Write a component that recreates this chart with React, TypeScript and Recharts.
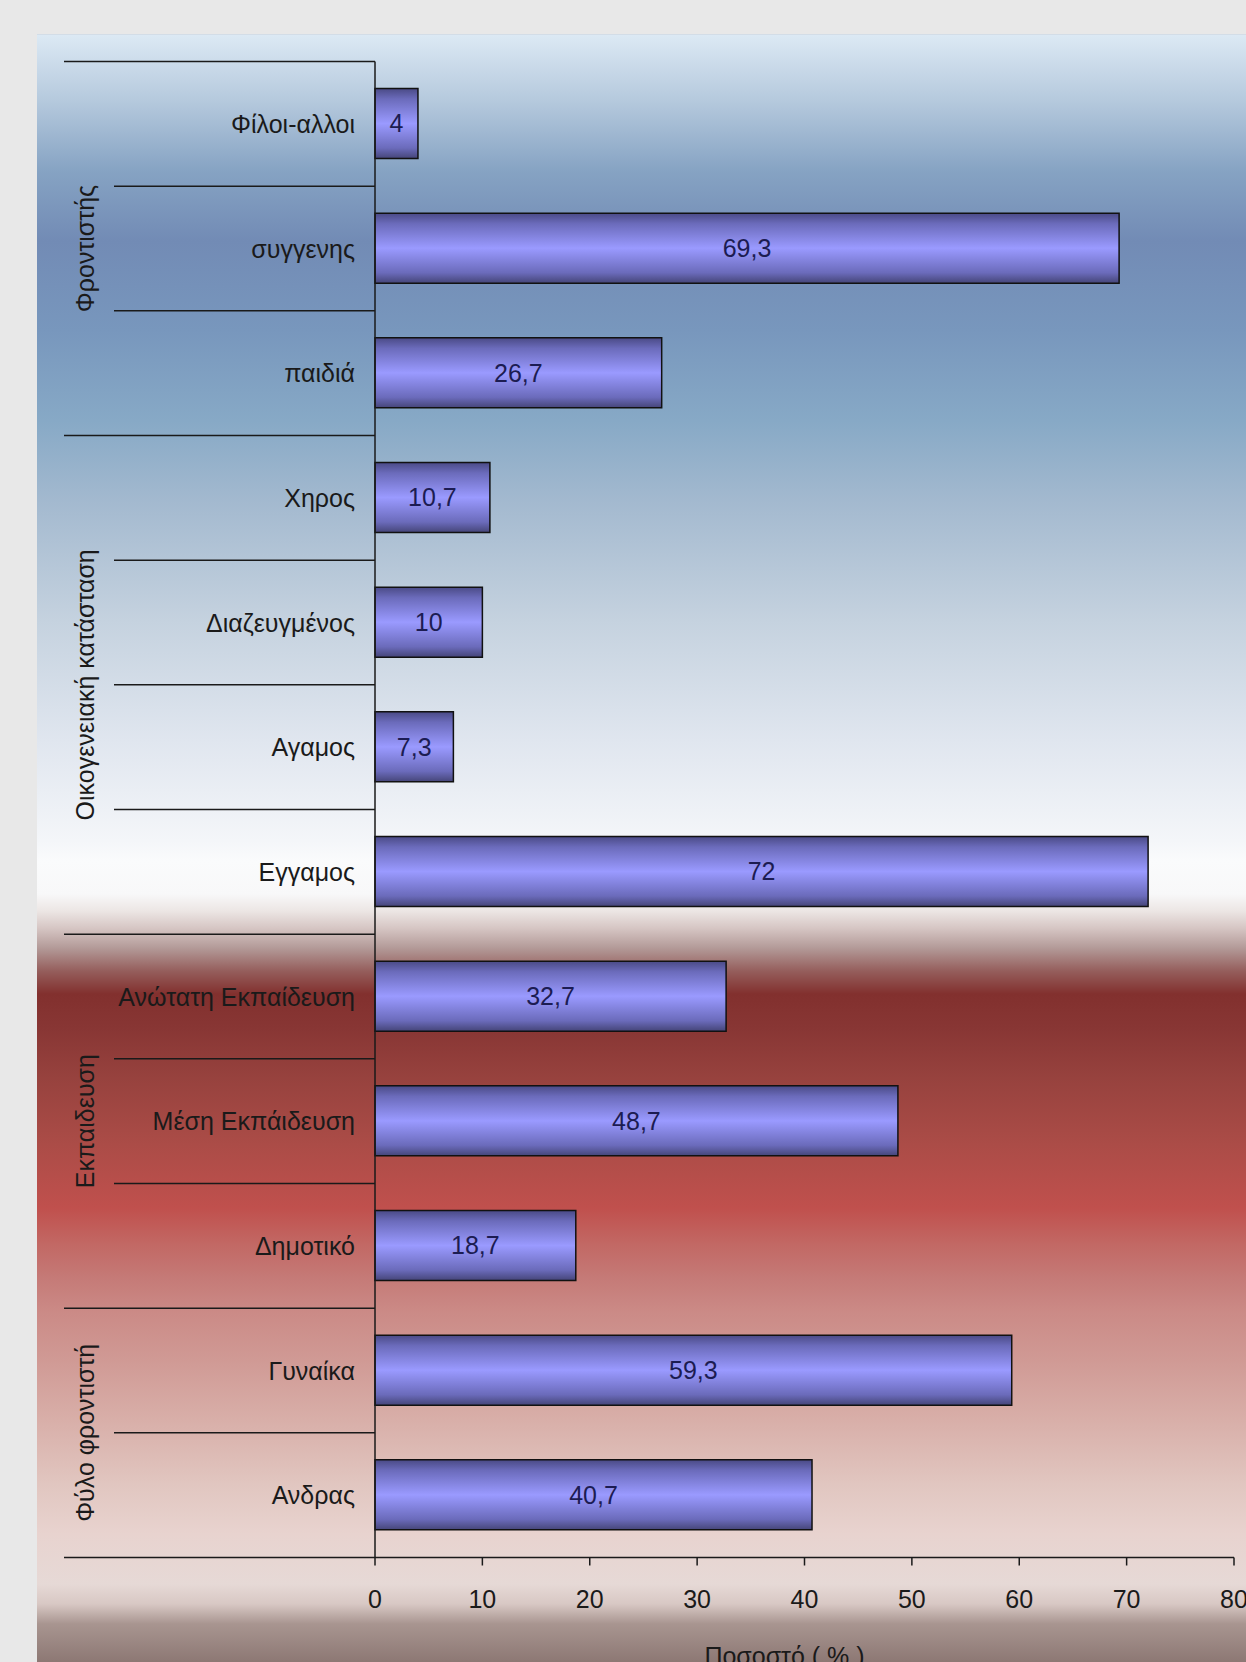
import React from "react";
import { BarChart, Bar, XAxis, YAxis, LabelList, Label } from "recharts";

// categories listed top to bottom
const categories = [
  "Φίλοι-αλλοι",
  "συγγενης",
  "παιδιά",
  "Χηρος",
  "Διαζευγμένος",
  "Αγαμος",
  "Εγγαμος",
  "Ανώτατη Εκπαίδευση",
  "Μέση Εκπάιδευση",
  "Δημοτικό",
  "Γυναίκα",
  "Ανδρας",
];
const values = [4, 69.3, 26.7, 10.7, 10, 7.3, 72, 32.7, 48.7, 18.7, 59.3, 40.7];
const groupNames = ["Φροντιστής", "Οικογενειακή κατάσταση", "Εκπαιδευση", "Φύλο φροντιστή"];
const groupSizes = [3, 4, 3, 2];
const xTicks = [0, 10, 20, 30, 40, 50, 60, 70, 80];

const data = categories.map((category, i) => ({ category, value: values[i] }));

const FONT = "'Liberation Sans', Arial, sans-serif";
const CHART_W = 1300;
const CHART_H = 1700;
const MARGIN = { top: 61.5, right: 66, bottom: 0, left: 0 };
const Y_AXIS_W = 375;
const X_AXIS_H = 142.5;
const PLOT_H = CHART_H - MARGIN.top - MARGIN.bottom - X_AXIS_H;
const AXIS_X = MARGIN.left + Y_AXIS_W;

const fmt = (v: any) => String(v).replace(".", ",");

const CategoryTick = (props: any) => {
  const { y, index, payload } = props;
  const band = PLOT_H / categories.length;
  let start = 0;
  let g = 0;
  while (g < groupSizes.length && index >= start + groupSizes[g]) {
    start += groupSizes[g];
    g++;
  }
  const isLast = index === start + groupSizes[g] - 1;
  const groupCenter = y + ((groupSizes[g] - 1) / 2) * band;
  return (
    <g>
      <text x={AXIS_X - 20} y={y} textAnchor="end" dominantBaseline="central" fontSize={25} fill="#1a1a1a" fontFamily={FONT}>
        {payload.value}
      </text>
      {index === 0 && (
        <line x1={64} x2={AXIS_X} y1={y - band / 2} y2={y - band / 2} stroke="#1a1a1a" strokeWidth={1.5} />
      )}
      <line x1={isLast ? 64 : 114} x2={AXIS_X} y1={y + band / 2} y2={y + band / 2} stroke="#1a1a1a" strokeWidth={1.5} />
      {index === start && (
        <text
          x={85}
          y={groupCenter}
          textAnchor="middle"
          dominantBaseline="central"
          fontSize={25}
          fill="#1a1a1a"
          fontFamily={FONT}
          transform={`rotate(-90, 85, ${groupCenter})`}
        >
          {groupNames[g]}
        </text>
      )}
    </g>
  );
};

const panelBg = `linear-gradient(to bottom,
  #dce9f4 0px, #b5c9dd 66px, #86a3c3 136px, #728bb5 206px, #7897bd 296px,
  #87a9c6 386px, #a3b9cf 466px, #c5d2df 586px, #e0e6ef 706px, #f4f6f9 806px,
  #fafbfc 826px, #f8f8f9 859px, #ece6e4 876px, #d6c6c4 893px, #b39a98 913px,
  #955e5c 936px, #82302e 959px, #883634 993px, #97423e 1043px, #ab4c47 1109px,
  #c0504d 1173px, #c26864 1209px, #c57a77 1243px, #cb8a86 1276px, #d09a95 1326px,
  #d8aea8 1383px, #e1c6c0 1449px, #e8d3cf 1499px, #e6d9d6 1549px, #d8c8c4 1569px,
  #a89590 1589px, #8c7773 1628px)`;

export default function App() {
  return (
    <div style={{ position: "absolute", left: 0, top: 0, width: 1246, height: 1662, background: "#e8e8e8", overflow: "hidden" }}>
      <div style={{ position: "absolute", left: 37, top: 34, width: 1209, height: 1628, background: panelBg, borderTop: "1px solid #d3dde7" }} />
      <div style={{ position: "absolute", left: 0, top: 0 }}>
        <BarChart width={CHART_W} height={CHART_H} data={data} layout="vertical" margin={MARGIN} barSize={70}>
          <defs>
            <linearGradient id="barFill" x1="0" y1="0" x2="0" y2="1">
              <stop offset="0%" stopColor="#4a4a86" />
              <stop offset="15%" stopColor="#6b6bbb" />
              <stop offset="50%" stopColor="#9a9aff" />
              <stop offset="85%" stopColor="#6b6bbb" />
              <stop offset="100%" stopColor="#454578" />
            </linearGradient>
          </defs>
          <XAxis
            type="number"
            domain={[0, 80]}
            ticks={xTicks}
            interval={0}
            height={X_AXIS_H}
            tickSize={8}
            tickMargin={25}
            stroke="#1a1a1a"
            axisLine={{ stroke: "#1a1a1a", strokeWidth: 1.5 }}
            tickLine={{ stroke: "#1a1a1a", strokeWidth: 1.5 }}
            tick={{ fontSize: 25, fill: "#1a1a1a", fontFamily: FONT }}
          >
            <Label value="Ποσοστό ( % )" position="insideBottom" offset={35} dx={-20} fontSize={25} fill="#1a1a1a" fontFamily={FONT} />
          </XAxis>
          <YAxis
            type="category"
            dataKey="category"
            width={Y_AXIS_W}
            interval={0}
            tickLine={false}
            axisLine={{ stroke: "#1a1a1a", strokeWidth: 1.5 }}
            tick={CategoryTick}
          />
          <Bar dataKey="value" fill="url(#barFill)" stroke="#111" strokeWidth={1.5} isAnimationActive={false}>
            <LabelList dataKey="value" position="center" formatter={fmt} fontSize={25} fill="#1c1c52" fontFamily={FONT} />
          </Bar>
        </BarChart>
      </div>
    </div>
  );
}
